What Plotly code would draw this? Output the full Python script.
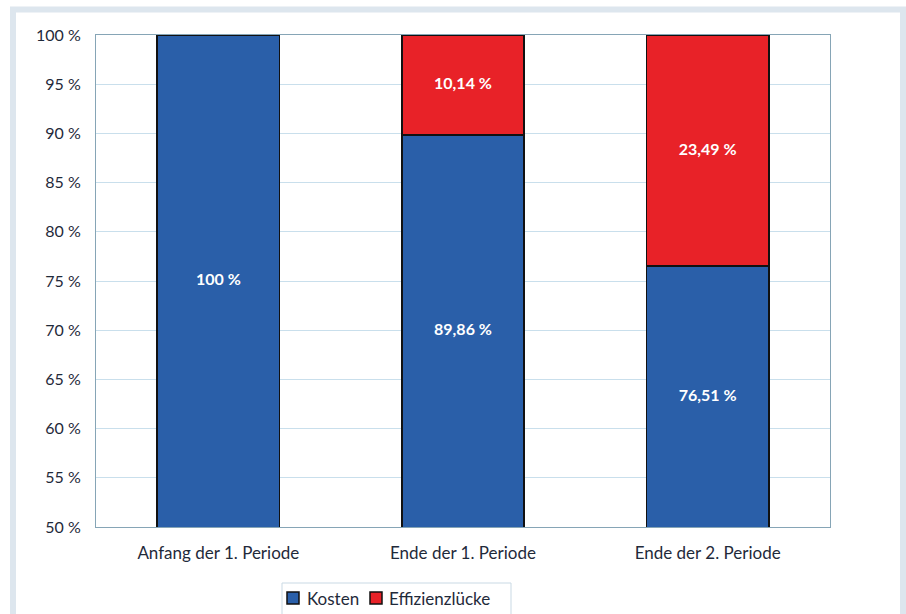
import plotly.graph_objects as go

# Periods on the x axis
categories = ["Anfang der 1. Periode", "Ende der 1. Periode", "Ende der 2. Periode"]

# Share of costs and efficiency gap (percent)
kosten = [100, 89.86, 76.51]
effizienzluecke = [0, 10.14, 23.49]

# Text printed on the segments
kosten_text = ["100 %", "89,86 %", "76,51 %"]
luecke_text = ["", "10,14 %", "23,49 %"]

# Series names and colours (also used for the legend below the chart)
series_names = ["Kosten", "Effizienzlücke"]
series_colors = ["#2a5fa9", "#e82228"]

y_min, y_max = 50, 100
y_ticks = list(range(50, 101, 5))
y_tick_text = [f"{v} %" for v in y_ticks]

TEXT = "#1f2a3a"
GRID = "#c9dfec"
AXIS = "#86a5b6"

# Plot area geometry in pixels, used to place decorations in paper units
PL, PR, PT, PB = 96, 830, 35, 527


def px_x(px):
    return (px - PL) / (PR - PL)


def px_y(py):
    return (PB - py) / (PB - PT)


fig = go.Figure()
for name, color, vals in zip(series_names, series_colors, [kosten, effizienzluecke]):
    fig.add_trace(go.Bar(
        name=name, x=categories, y=vals,
        marker=dict(color=color, line=dict(color="#111111", width=1.5)),
        showlegend=False,
    ))

# Segment labels centred in the visible part of each segment
k_mid = [(y_min + min(v, y_max)) / 2 for v in kosten]
e_mid = [(k + (k + e)) / 2 for k, e in zip(kosten, effizienzluecke)]
label_font = dict(family="Lato", size=16, color="white", weight="bold")
for mids, texts in [(k_mid, kosten_text), (e_mid, luecke_text)]:
    fig.add_trace(go.Scatter(
        x=categories, y=mids, mode="text", text=texts,
        textfont=label_font, showlegend=False, hoverinfo="skip",
    ))

# Outer frame around the figure
shapes = [dict(
    type="rect", xref="paper", yref="paper",
    x0=px_x(13), x1=px_x(903), y0=px_y(700), y1=px_y(9.5),
    line=dict(color="#dde6ee", width=6), layer="below",
)]

# Legend box with coloured squares below the chart
shapes.append(dict(
    type="rect", xref="paper", yref="paper",
    x0=px_x(282), x1=px_x(511), y0=px_y(640), y1=px_y(583),
    line=dict(color="#c9d9e4", width=1), fillcolor="white", layer="below",
))
legend_square_x = [287, 370]
legend_text_x = [305, 387]
annotations = []
for name, color, sx, tx in zip(series_names, series_colors, legend_square_x, legend_text_x):
    shapes.append(dict(
        type="rect", xref="paper", yref="paper",
        x0=px_x(sx), x1=px_x(sx + 12), y0=px_y(604), y1=px_y(592),
        line=dict(color="#111111", width=1.5), fillcolor=color,
    ))
    annotations.append(dict(
        text=name, xref="paper", yref="paper", x=px_x(tx), y=px_y(598.5),
        xanchor="left", yanchor="middle", showarrow=False,
        font=dict(family="Lato", size=17, color=TEXT),
    ))

fig.update_layout(
    width=906, height=614,
    barmode="stack", bargap=0.5,
    separators=",.",
    paper_bgcolor="white", plot_bgcolor="white",
    margin=dict(l=PL, r=906 - PR, t=PT, b=614 - PB, autoexpand=False),
    font=dict(family="Lato", size=16, color=TEXT),
    showlegend=False,
    shapes=shapes,
    annotations=annotations,
)
fig.update_yaxes(
    range=[y_min, y_max], tickmode="array", tickvals=y_ticks, ticktext=y_tick_text,
    showgrid=True, gridcolor=GRID, gridwidth=1,
    showline=True, linecolor=AXIS, linewidth=1, mirror=True,
    ticks="", ticklabelstandoff=11, zeroline=False, tickfont=dict(size=16, color=TEXT),
)
fig.update_xaxes(
    showline=True, linecolor=AXIS, linewidth=1, mirror=True,
    ticks="", ticklabelstandoff=11, tickfont=dict(size=17, color=TEXT),
)

fig.write_html("out.html")
